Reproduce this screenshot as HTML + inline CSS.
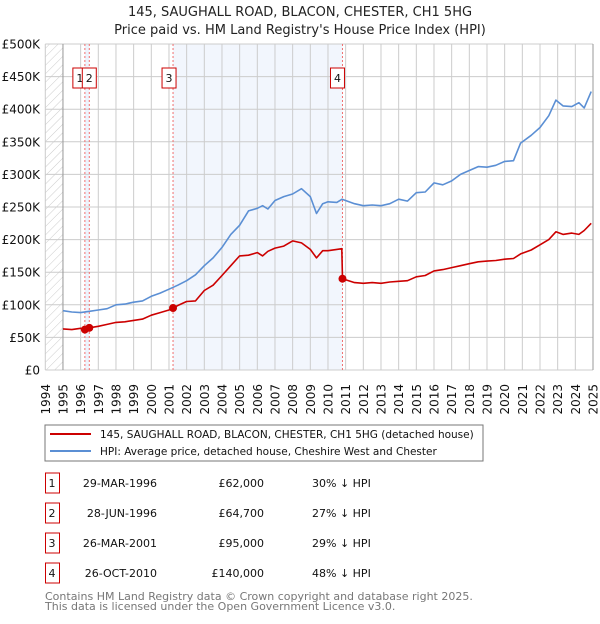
<!DOCTYPE html>
<html><head><meta charset="utf-8"><style>
body{margin:0;background:#fff;font-family:"DejaVu Sans","Liberation Sans",sans-serif;}
svg text{font-family:"DejaVu Sans","Liberation Sans",sans-serif;}
</style></head><body>
<svg id="c" width="600" height="620" xmlns="http://www.w3.org/2000/svg">
<defs><pattern id="hatch" width="6" height="6" patternUnits="userSpaceOnUse" patternTransform="rotate(45)"><line x1="0" y1="0" x2="0" y2="6" stroke="#ccc" stroke-width="1"/></pattern></defs>
<text x="300" y="16" text-anchor="middle" font-size="13" fill="#222">145, SAUGHALL ROAD, BLACON, CHESTER, CH1 5HG</text>
<text x="300" y="34" text-anchor="middle" font-size="13" fill="#222">Price paid vs. HM Land Registry's House Price Index (HPI)</text>
<g id="plot"></g>
<rect x="45" y="425" width="438" height="36" fill="#fff" stroke="#777"/>
<line x1="50" y1="434" x2="91" y2="434" stroke="#cc0000" stroke-width="2"/>
<text x="100" y="438" font-size="10.5" fill="#111">145, SAUGHALL ROAD, BLACON, CHESTER, CH1 5HG (detached house)</text>
<line x1="50" y1="451" x2="91" y2="451" stroke="#5b8fd4" stroke-width="2"/>
<text x="100" y="455" font-size="10.5" fill="#111">HPI: Average price, detached house, Cheshire West and Chester</text>
<g id="tbl" font-size="11" fill="#111"></g>
<text x="45" y="600" font-size="11" fill="#777">Contains HM Land Registry data © Crown copyright and database right 2025.</text>
<text x="45" y="610" font-size="11" fill="#777">This data is licensed under the Open Government Licence v3.0.</text>
</svg>
<script>
const hpiYears=[1995,1995.5,1996,1996.5,1997,1997.5,1998,1998.5,1999,1999.5,2000,2000.5,2001,2001.5,2002,2002.5,2003,2003.5,2004,2004.5,2005,2005.5,2006,2006.3,2006.6,2007,2007.5,2008,2008.5,2009,2009.35,2009.7,2010,2010.5,2010.8,2011.5,2012,2012.5,2013,2013.5,2014,2014.5,2015,2015.5,2016,2016.5,2017,2017.5,2018,2018.5,2019,2019.5,2020,2020.5,2020.9,2021.5,2022,2022.5,2022.9,2023.3,2023.8,2024.2,2024.5,2024.9];
const hpiValues=[91,89,88,90,92,94,100,101,104,106,113,118,124,130,137,146,160,172,188,208,222,244,248,252,247,260,266,270,278,266,240,255,258,257,262,255,252,253,252,255,262,259,272,273,287,284,290,300,306,312,311,314,320,321,348,360,372,390,414,405,404,410,402,427];
const redYears=[1995,1995.5,1996,1996.24,1996.49,1997,1997.5,1998,1998.5,1999,1999.5,2000,2000.5,2001,2001.23,2001.5,2002,2002.5,2003,2003.5,2004,2004.5,2005,2005.5,2006,2006.3,2006.6,2007,2007.5,2008,2008.5,2009,2009.35,2009.7,2010,2010.5,2010.78,2010.82,2011.5,2012,2012.5,2013,2013.5,2014,2014.5,2015,2015.5,2016,2016.5,2017,2017.5,2018,2018.5,2019,2019.5,2020,2020.5,2020.9,2021.5,2022,2022.5,2022.9,2023.3,2023.8,2024.2,2024.5,2024.9];
const redValues=[63,62,64,62,64.7,67,70,73,74,76,78,84,88,92,95,99,105,106,122,130,145,160,175,176,180,175,182,187,190,198,195,185,172,183,183,185,186,140,134,133,134,133,135,136,137,143,145,152,154,157,160,163,166,167,168,170,171,178,184,192,200,212,208,210,208,214,225];
const saleLabels=["1","2","3","4"];
const saleYears=[1996.24,1996.49,2001.23,2010.82];
const salePrices=[62000,64700,95000,140000];
const saleDates=["29-MAR-1996","28-JUN-1996","26-MAR-2001","26-OCT-2010"];
const salePct=["30% \u2193 HPI","27% \u2193 HPI","29% \u2193 HPI","48% \u2193 HPI"];
const yTicks=[0,50,100,150,200,250,300,350,400,450,500];
const yTickLabels=["£0","£50K","£100K","£150K","£200K","£250K","£300K","£350K","£400K","£450K","£500K"];
const xTicks=[1994,1995,1996,1997,1998,1999,2000,2001,2002,2003,2004,2005,2006,2007,2008,2009,2010,2011,2012,2013,2014,2015,2016,2017,2018,2019,2020,2021,2022,2023,2024,2025];

const X0=45.3,X1=593,Y0=370,Y1=44;
const xs=y=>X0+(y-1994)*(X1-X0)/31;
const ys=v=>Y0-v*(Y0-Y1)/500;
const NS="http://www.w3.org/2000/svg";
const plot=document.getElementById('plot');
function mk(tag,attrs,parent){const e=document.createElementNS(NS,tag);for(const k in attrs)e.setAttribute(k,attrs[k]);(parent||plot).appendChild(e);return e;}

let e;
e=mk('rect',{x:xs(saleYears[0]),y:Y1,width:xs(saleYears[1])-xs(saleYears[0]),height:Y0-Y1,fill:'#eef3fc'});


e=mk('rect',{x:xs(saleYears[2]),y:Y1,width:xs(saleYears[3])-xs(saleYears[2]),height:Y0-Y1,fill:'#f2f6fd'});


e=mk('rect',{x:X0,y:Y1,width:xs(1995)-X0,height:Y0-Y1,fill:'url(#hatch)'});



xTicks.forEach((t,i)=>{
 const l=mk('line',{x1:xs(t),x2:xs(t),y1:Y1,y2:Y0,stroke:'#ccc','stroke-width':1});
 
 
 const tx=mk('text',{x:0,y:0,transform:`translate(${xs(t)+4.5},384) rotate(-90)`,'text-anchor':'end','font-size':12,fill:'#111'});
 tx.textContent=t;
 
 
});
yTicks.forEach((t,i)=>{
 const l=mk('line',{x1:X0,x2:X1,y1:ys(t),y2:ys(t),stroke:'#ccc','stroke-width':1});
 
 
 const tx=mk('text',{x:40,y:ys(t)+4.5,'text-anchor':'end','font-size':12,fill:'#111'});
 tx.textContent=yTickLabels[i];
 
 
});
e=mk('line',{x1:xs(1995),x2:xs(1995),y1:Y1,y2:Y0,stroke:'#999'});


e=mk('line',{x1:X1,x2:X1,y1:Y1,y2:Y0,stroke:'#999'});



saleYears.forEach((s,i)=>{
 const l=mk('line',{x1:xs(s),x2:xs(s),y1:Y1,y2:Y0,stroke:'#f07070','stroke-dasharray':'2,2'});
 
 
});

function path(xa,va,color,name){
 const d=xa.map((x,i)=>(i?'L':'M')+xs(x).toFixed(1)+','+ys(va[i]).toFixed(1)).join('');
 const p=mk('path',{d:d,fill:'none',stroke:color,'stroke-width':1.6,'stroke-linejoin':'round'});
 
 
}
path(hpiYears,hpiValues,'#5b8fd4','hpi-line');
path(redYears,redValues,'#cc0000','property-price-line');

const badgeOffsets=[-12,-7,-11,-12];
saleYears.forEach((s,i)=>{
 const c=mk('circle',{cx:xs(s),cy:ys(salePrices[i]/1000),r:4,fill:'#cc0000'});
 
 
 const bx=xs(s)+badgeOffsets[i];
 const b=mk('rect',{x:bx,y:68,width:14,height:20,fill:'#fff',stroke:'#cc0000'});
 
 
 const t=mk('text',{x:bx+7,y:82,'text-anchor':'middle','font-size':11,fill:'#111'});
 t.textContent=saleLabels[i];
 
 
});

const tbl=document.getElementById('tbl');
saleLabels.forEach((lab,i)=>{
 const cy=483+i*30;
 const r=mk('rect',{x:45.5,y:cy-10,width:14,height:20,fill:'#fff',stroke:'#cc0000'},tbl);
 
 
 const cells=[[52,'middle',lab],[157,'end',saleDates[i]],[264,'end','£'+salePrices[i].toLocaleString('en-GB')],[312,'start',salePct[i]]];
 cells.forEach(c=>{
  const t=mk('text',{x:c[0],y:cy+4,'text-anchor':c[1]},tbl);
  t.textContent=c[2];
  
  
 });
});
</script>
</body></html>
